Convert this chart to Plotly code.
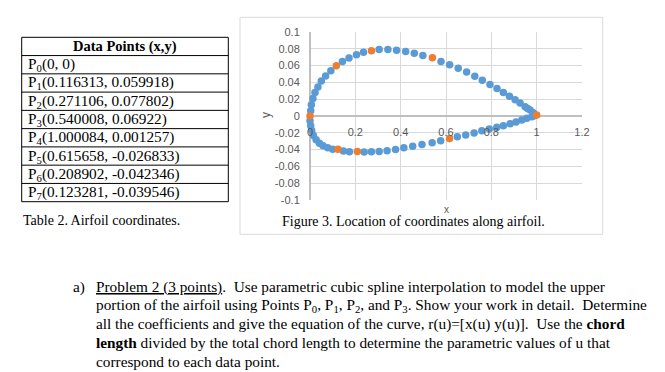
import plotly.graph_objects as go

# ---- data ----
upper_x = [0.003, 0.006, 0.013, 0.022, 0.035, 0.050, 0.069, 0.092, 0.143, 0.172, 0.205, 0.236,
           0.305, 0.3435, 0.382, 0.422, 0.460, 0.498, 0.578, 0.616, 0.654, 0.691, 0.727, 0.760,
           0.794, 0.825, 0.853, 0.880, 0.905, 0.927, 0.949, 0.960, 0.971, 0.985]
upper_y = [0.0063, 0.0134, 0.0208, 0.0279, 0.0346, 0.0417, 0.0476, 0.0539, 0.0650, 0.0689, 0.0728, 0.0760,
           0.0792, 0.0792, 0.0784, 0.0768, 0.0748, 0.0721, 0.0650, 0.0610, 0.0567, 0.0524, 0.0473, 0.0425,
           0.0374, 0.0326, 0.0279, 0.0236, 0.0193, 0.0154, 0.0110, 0.0090, 0.0071, 0.0040]
lower_x = [0.000, 0.003, 0.0075, 0.015, 0.027, 0.0415, 0.0575, 0.078, 0.100, 0.1475, 0.174, 0.239,
           0.271, 0.305, 0.340, 0.3775, 0.414, 0.453, 0.494, 0.539, 0.5765, 0.650, 0.687, 0.724,
           0.758, 0.791, 0.824, 0.853, 0.883, 0.909, 0.9346, 0.957, 0.979, 0.990]
lower_y = [-0.0056, -0.0115, -0.0174, -0.0233, -0.0284, -0.0324, -0.0355, -0.0378, -0.0395, -0.0418, -0.0426, -0.0430,
           -0.0426, -0.0422, -0.0414, -0.0398, -0.0378, -0.0359, -0.0339, -0.0319, -0.0296, -0.0248, -0.0225, -0.0201,
           -0.0177, -0.0154, -0.0135, -0.0115, -0.0091, -0.0071, -0.0047, -0.0028, -0.0008, 0.0002]
data_x = [0, 0.116313, 0.271106, 0.540008, 1.000084, 0.615658, 0.208902, 0.123281]
data_y = [0, 0.059918, 0.077802, 0.06922, 0.001257, -0.026833, -0.042346, -0.039546]
x_ticks = [0, 0.2, 0.4, 0.6, 0.8, 1, 1.2]
x_tick_labels = ["0", "0.2", "0.4", "0.6", "0.8", "1", "1.2"]
y_ticks = [0.1, 0.08, 0.06, 0.04, 0.02, 0, -0.02, -0.04, -0.06, -0.08, -0.1]
y_tick_labels = ["0.1", "0.08", "0.06", "0.04", "0.02", "0", "-0.02", "-0.04", "-0.06", "-0.08", "-0.1"]
table_header = "Data Points (x,y)"
table_rows = ["P<sub>0</sub>(0, 0)",
              "P<sub>1</sub>(0.116313, 0.059918)",
              "P<sub>2</sub>(0.271106, 0.077802)",
              "P<sub>3</sub>(0.540008, 0.06922)",
              "P<sub>4</sub>(1.000084, 0.001257)",
              "P<sub>5</sub>(0.615658, -0.026833)",
              "P<sub>6</sub>(0.208902, -0.042346)",
              "P<sub>7</sub>(0.123281, -0.039546)"]
table_caption = "Table 2. Airfoil coordinates."
figure_caption = "Figure 3. Location of coordinates along airfoil."
paragraph = ["<u>Problem 2 (3 points)</u>.  Use parametric cubic spline interpolation to model the upper",
             "portion of the airfoil using Points P<sub>0</sub>, P<sub>1</sub>, P<sub>2</sub>, and P<sub>3</sub>. Show your work in detail.  Determine",
             "all the coefficients and give the equation of the curve, r(u)=[x(u) y(u)].  Use the <b>chord</b>",
             "<b>length</b> divided by the total chord length to determine the parametric values of u that",
             "correspond to each data point."]

# ---- layout geometry (pixels) ----
W_FIG, H_FIG = 665, 372
L, R, T, B = 310, 83, 32, 172
PW = W_FIG - L - R
PH = H_FIG - T - B

def px(x):
    return (x - L) / PW

def py(y):
    return 1 - (y - T) / PH

fig = go.Figure()
fig.add_trace(go.Scatter(x=upper_x + lower_x, y=upper_y + lower_y, mode="markers",
                         marker=dict(color="#5B9BD5", size=7.5), showlegend=False, cliponaxis=False))
fig.add_trace(go.Scatter(x=data_x, y=data_y, mode="markers",
                         marker=dict(color="#ED7D31", size=7.5), showlegend=False, cliponaxis=False))

tickfont = dict(family="Liberation Sans", size=11, color="#595959")
fig.update_layout(
    width=W_FIG, height=H_FIG,
    margin=dict(l=L, r=R, t=T, b=B, pad=0),
    paper_bgcolor="white", plot_bgcolor="white",
    xaxis=dict(range=[0, 1.2], tickvals=x_ticks, ticktext=x_tick_labels, showgrid=True,
               gridcolor="#D9D9D9", gridwidth=1, zeroline=True, zerolinecolor="#BFBFBF",
               showline=False, anchor="free", position=0.5, ticks="outside", ticklen=6,
               tickcolor="rgba(0,0,0,0)", tickfont=tickfont, fixedrange=True),
    yaxis=dict(range=[-0.1, 0.1], tickvals=y_ticks, ticktext=y_tick_labels, showgrid=True,
               gridcolor="#D9D9D9", gridwidth=1, zeroline=True, zerolinecolor="#BFBFBF",
               showline=False, ticks="outside", ticklen=7, tickcolor="rgba(0,0,0,0)",
               tickfont=tickfont, fixedrange=True),
)

shapes = []
# chart frame
shapes.append(dict(type="rect", xref="paper", yref="paper", x0=px(240), x1=px(602.7),
                   y0=py(17.3), y1=py(234.3), line=dict(color="#D9D9D9", width=1), layer="below"))
# table
t_left, t_right, t_top, t_bot = 21.7, 228.3, 37.3, 201.7
row_h = (t_bot - t_top) / 9
shapes.append(dict(type="rect", xref="paper", yref="paper", x0=px(t_left), x1=px(t_right),
                   y0=py(t_top), y1=py(t_bot), line=dict(color="black", width=1)))
for i in range(1, 9):
    yy = t_top + i * row_h
    shapes.append(dict(type="line", xref="paper", yref="paper", x0=px(t_left), x1=px(t_right),
                       y0=py(yy), y1=py(yy), line=dict(color="black", width=1)))
fig.update_layout(shapes=shapes)

serif = "Liberation Serif"
ann = []
ann.append(dict(text="<b>" + table_header + "</b>", x=px((t_left + t_right) / 2), y=py(t_top + row_h / 2),
                xanchor="center", yanchor="middle", font=dict(family=serif, size=14.5, color="black")))
for i, r in enumerate(table_rows):
    ann.append(dict(text=r, x=px(25.5), y=py(t_top + row_h * (i + 1.5)), xanchor="left", yanchor="middle",
                    font=dict(family=serif, size=15.3, color="black")))
ann.append(dict(text=table_caption, x=px(20.5), y=py(220), xanchor="left", yanchor="middle",
                font=dict(family=serif, size=14, color="black")))
ann.append(dict(text=figure_caption, x=px(413), y=py(221.5), xanchor="center", yanchor="middle",
                font=dict(family=serif, size=14, color="black")))
ann.append(dict(text="x", x=px(446), y=py(209.5), xanchor="center", yanchor="middle",
                font=dict(family="Liberation Sans", size=10, color="#595959")))
ann.append(dict(text="y", x=px(266.7), y=py(115.3), xanchor="center", yanchor="middle", textangle=-90,
                font=dict(family="Liberation Sans", size=12, color="#595959")))
line_y = [286.5, 305, 324, 342.7, 361.5]
ann.append(dict(text="a)", x=px(71), y=py(line_y[0]), xanchor="left", yanchor="middle",
                font=dict(family=serif, size=15.3, color="black")))
for s, yy in zip(paragraph, line_y):
    ann.append(dict(text=s, x=px(94), y=py(yy), xanchor="left", yanchor="middle",
                    font=dict(family=serif, size=15.3, color="black")))
for a in ann:
    a.update(xref="paper", yref="paper", showarrow=False)
fig.update_layout(annotations=ann)

fig.write_html("out.html", config={"displayModeBar": False},
               post_script="document.body.style.margin='0';document.body.style.overflow='hidden';")
